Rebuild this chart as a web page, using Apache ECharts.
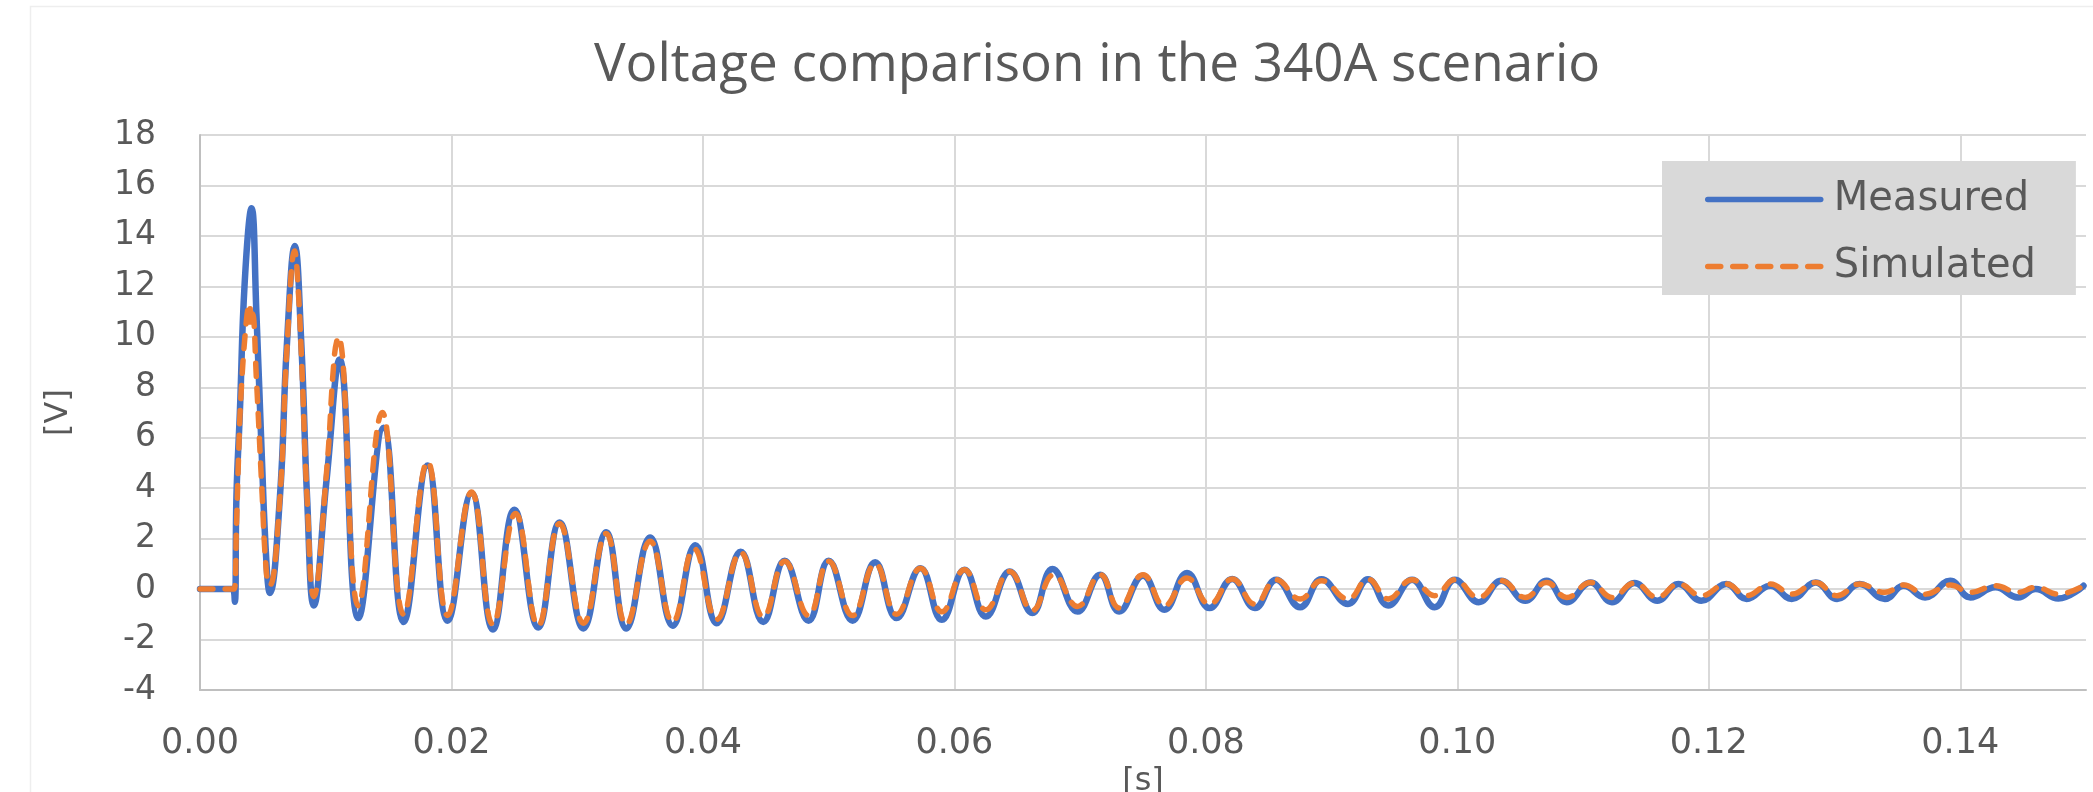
<!DOCTYPE html>
<html>
<head>
<meta charset="utf-8">
<script src="https://cdn.jsdelivr.net/npm/echarts@6/dist/echarts.min.js"></script>
<style>
html,body{margin:0;padding:0;background:#fff;}
#chart{width:2093px;height:792px;}
</style>
</head>
<body>
<div id="chart"></div>
<script>
// ---- data (time [s], voltage [V]) ----
const titleText = 'Voltage comparison in the 340A scenario';
const seriesNames = ['Measured', 'Simulated'];
const xTicks = { min: 0, max: 0.15, interval: 0.02 };
const yTicks = { min: -4, max: 18, interval: 2 };

const measured = [
  [0, 0], [0.0026, 0], [0.00277, -0.5], [0.0029, 3.7], [0.00317, 7.0], [0.00356, 12.2],
  [0.0041, 15.1], [0.00449, 10.9], [0.00489, 5.6], [0.00529, 1.0], [0.00555, -0.15],
  [0.00635, 3.6], [0.0069, 9.6], [0.00754, 13.6], [0.00807, 9.6], [0.00852, 3.6],
  [0.00905, -0.65], [0.01006, 4.3], [0.0111, 9.1], [0.0126, -1.15], [0.0146, 6.4],
  [0.0162, -1.3], [0.0181, 4.9], [0.0197, -1.25], [0.0216, 3.8], [0.0233, -1.6],
  [0.0250, 3.15], [0.0269, -1.52], [0.0286, 2.64], [0.0305, -1.56], [0.0323, 2.25],
  [0.0339, -1.56], [0.0358, 2.05], [0.0376, -1.45], [0.0394, 1.74], [0.0411, -1.35],
  [0.0430, 1.48], [0.0448, -1.3], [0.0465, 1.12], [0.0484, -1.25], [0.0500, 1.12],
  [0.0519, -1.25], [0.0537, 1.06], [0.0554, -1.15], [0.0573, 0.83], [0.0590, -1.22],
  [0.0608, 0.77], [0.0625, -1.09], [0.0644, 0.70], [0.0662, -0.95], [0.0678, 0.8],
  [0.0698, -0.89], [0.0716, 0.57], [0.0731, -0.89], [0.0750, 0.53], [0.0767, -0.82],
  [0.0785, 0.64], [0.0803, -0.75], [0.0821, 0.40], [0.0839, -0.75], [0.0856, 0.37],
  [0.0875, -0.72], [0.0892, 0.39], [0.0913, -0.59], [0.0929, 0.39], [0.0945, -0.65],
  [0.0964, 0.37], [0.0982, -0.72], [0.0998, 0.37], [0.1017, -0.52], [0.1035, 0.33],
  [0.1054, -0.46], [0.1071, 0.33], [0.1087, -0.52], [0.1106, 0.26], [0.1123, -0.52],
  [0.1141, 0.24], [0.1159, -0.46], [0.1176, 0.20], [0.1194, -0.46], [0.1214, 0.20],
  [0.1230, -0.39], [0.1249, 0.13], [0.1266, -0.39], [0.1285, 0.26], [0.1302, -0.39],
  [0.1320, 0.20], [0.1340, -0.39], [0.1355, 0.13], [0.1372, -0.33], [0.1392, 0.33],
  [0.1408, -0.33], [0.1428, 0.07], [0.1446, -0.33], [0.1460, 0.0], [0.1478, -0.37],
  [0.1498, 0.13]
];

const simulated = [
  [0, 0], [0.0027, 0], [0.0029, 2.5], [0.00305, 5.0], [0.00325, 7.6], [0.0037, 10.7],
  [0.00394, 11.3], [0.00405, 10.5], [0.00418, 10.9], [0.00449, 8.3], [0.00489, 4.3],
  [0.00529, 0.6], [0.00555, 0.15], [0.00635, 3.6], [0.0069, 9.4], [0.00754, 13.4],
  [0.00775, 12.4], [0.00807, 9.2], [0.00852, 3.6], [0.00905, -0.3], [0.01006, 4.6],
  [0.0107, 9.3], [0.0110, 10.0], [0.0126, -0.66], [0.01449, 7.0], [0.0162, -1.0],
  [0.0181, 5.05], [0.0197, -1.05], [0.0216, 3.85], [0.0233, -1.4], [0.0251, 3.0],
  [0.0269, -1.45], [0.0286, 2.6], [0.0305, -1.35], [0.0323, 2.2], [0.0339, -1.4],
  [0.0358, 1.9], [0.0376, -1.3], [0.0393, 1.6], [0.0411, -1.2], [0.0430, 1.45],
  [0.0448, -1.1], [0.0465, 1.1], [0.0484, -1.05], [0.0500, 1.1], [0.0519, -1.05],
  [0.0537, 1.0], [0.0554, -1.0], [0.0573, 0.83], [0.0590, -0.9], [0.0608, 0.77],
  [0.0625, -0.82], [0.0644, 0.7], [0.0662, -0.85], [0.0679, 0.57], [0.0698, -0.69],
  [0.0716, 0.57], [0.0731, -0.75], [0.0750, 0.57], [0.0767, -0.66], [0.0785, 0.44],
  [0.0803, -0.6], [0.0821, 0.4], [0.0839, -0.6], [0.0856, 0.37], [0.0875, -0.39],
  [0.0892, 0.33], [0.0913, -0.39], [0.0929, 0.39], [0.0945, -0.39], [0.0964, 0.37],
  [0.0982, -0.26], [0.0998, 0.37], [0.1017, -0.33], [0.1035, 0.33], [0.1054, -0.33],
  [0.1071, 0.26], [0.1087, -0.33], [0.1106, 0.26], [0.1123, -0.33], [0.1141, 0.24],
  [0.1159, -0.33], [0.1176, 0.2], [0.1194, -0.26], [0.1214, 0.2], [0.1230, -0.26],
  [0.1249, 0.2], [0.1266, -0.2], [0.1285, 0.26], [0.1302, -0.26], [0.1320, 0.2],
  [0.1340, -0.13], [0.1355, 0.16], [0.1372, -0.2], [0.1392, 0.16], [0.1408, -0.13],
  [0.1428, 0.13], [0.1446, -0.13], [0.1460, 0.07], [0.1478, -0.2], [0.1498, 0.13]
];

// ---- chart ----
const textColor = '#595959';
const labelFont = 'DejaVu Sans';
const blue = '#4472c4';
const orange = '#ed7d31';
const chart = echarts.init(document.getElementById('chart'), null, { renderer: 'canvas' });

chart.setOption({
  animation: false,
  backgroundColor: '#ffffff',
  graphic: [{
    type: 'rect', left: 28, top: 4, z: -10,
    shape: { width: 2100, height: 800 },
    style: { fill: 'none', stroke: '#eeeeee', lineWidth: 1.5 }
  }],
  title: {
    text: titleText,
    left: 589,
    top: 34,
    textStyle: { fontFamily: 'Open Sans', fontSize: 53, fontWeight: 'normal', color: textColor }
  },
  grid: { left: 200, right: 7, top: 135, bottom: 102, containLabel: false, outerBoundsMode: 'none' },
  legend: {
    orient: 'vertical',
    left: 1662,
    top: 161,
    backgroundColor: '#d9d9d9',
    padding: [17, 40, 7, 43],
    itemWidth: 113,
    itemHeight: 20,
    itemGap: 24,
    itemStyle: { opacity: 0 },
    lineStyle: { width: 5.5, cap: 'round' },
    textStyle: { fontFamily: labelFont, fontSize: 40, color: textColor, lineHeight: 43, padding: [0, 0, 0, 8] },
    data: seriesNames
  },
  xAxis: {
    type: 'value',
    min: xTicks.min, max: xTicks.max, interval: xTicks.interval,
    name: '[s]',
    nameLocation: 'middle',
    nameGap: 76,
    nameTextStyle: { fontFamily: labelFont, fontSize: 32, color: textColor },
    axisLine: { show: true, onZero: false, lineStyle: { color: '#bfbfbf', width: 2 } },
    axisTick: { show: false },
    axisLabel: {
      margin: 36, fontFamily: labelFont, fontSize: 35, color: textColor,
      showMaxLabel: false,
      formatter: v => v.toFixed(2)
    },
    splitLine: { show: true, showMaxLine: false, lineStyle: { color: '#d9d9d9', width: 2 } }
  },
  yAxis: {
    type: 'value',
    min: yTicks.min, max: yTicks.max, interval: yTicks.interval,
    name: '[V]',
    nameLocation: 'middle',
    nameRotate: 90,
    nameGap: 125,
    nameTextStyle: { fontFamily: labelFont, fontSize: 32, color: textColor },
    axisLine: { show: true, lineStyle: { color: '#bfbfbf', width: 2 } },
    axisTick: { show: false },
    axisLabel: { margin: 44, fontFamily: labelFont, fontSize: 33, color: textColor },
    splitLine: { show: true, lineStyle: { color: '#d9d9d9', width: 2 } }
  },
  series: [
    {
      name: seriesNames[0],
      type: 'line',
      data: measured,
      symbol: 'none',
      smooth: 0.45,
      lineStyle: { color: blue, width: 6.5, cap: 'round', join: 'round' },
      itemStyle: { color: blue },
      z: 2
    },
    {
      name: seriesNames[1],
      type: 'line',
      data: simulated,
      symbol: 'none',
      smooth: 0.45,
      lineStyle: { color: orange, width: 5.5, type: [13, 12], cap: 'round', join: 'round' },
      itemStyle: { color: orange },
      z: 3
    }
  ]
});
</script>
</body>
</html>
